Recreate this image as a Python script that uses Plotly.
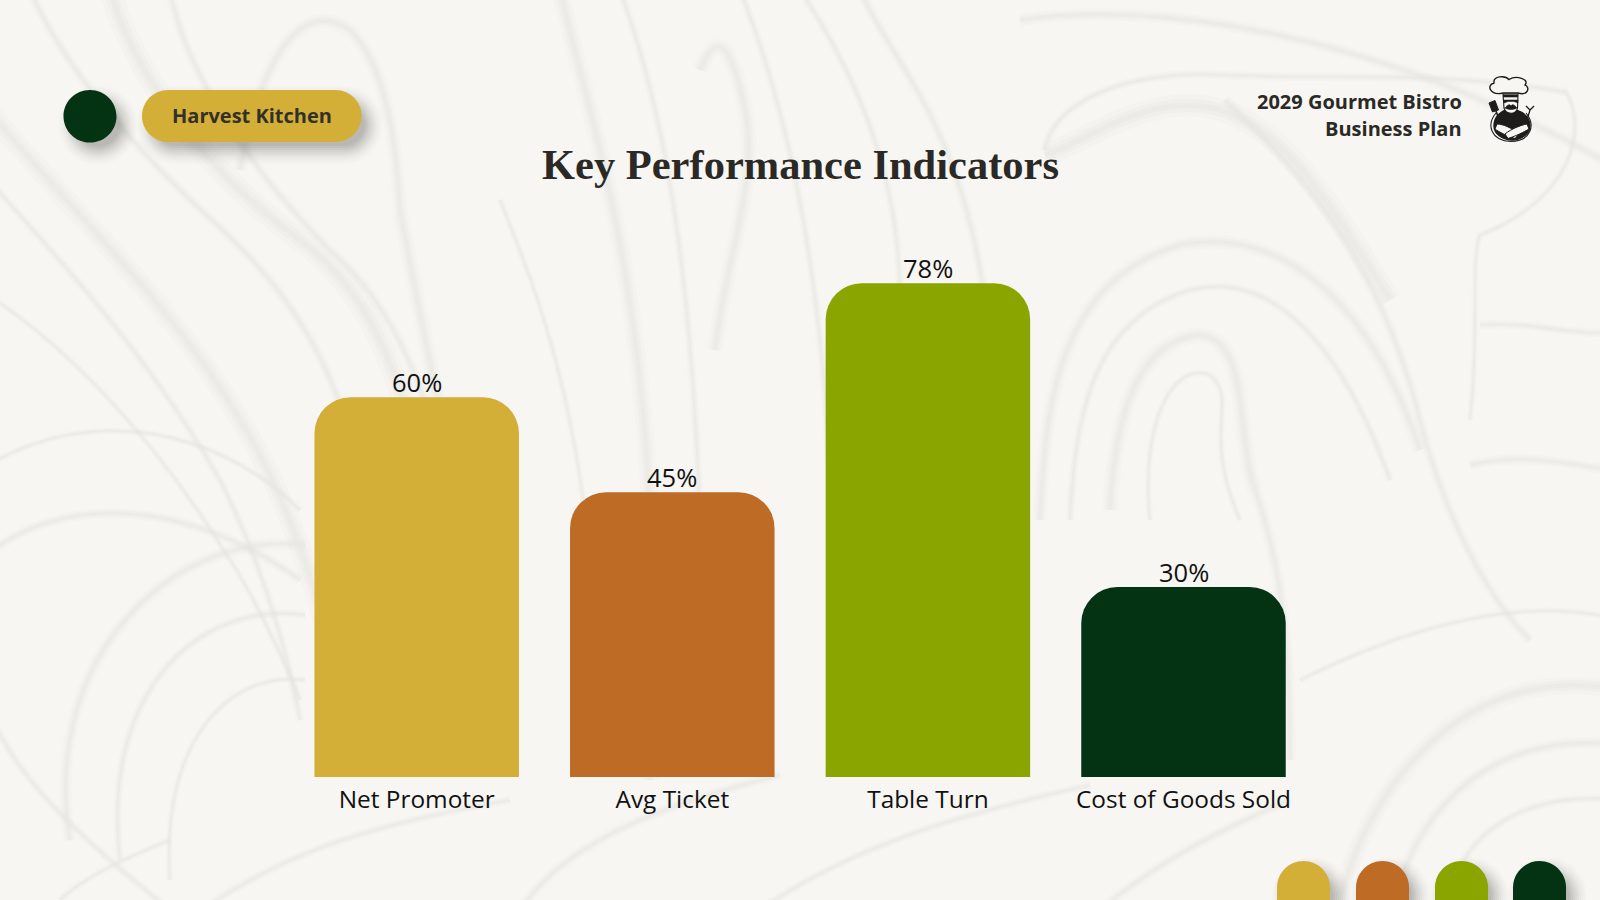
import plotly.graph_objects as go

categories = ["Net Promoter", "Avg Ticket", "Table Turn", "Cost of Goods Sold"]
values = [60, 45, 78, 30]
value_labels = ["60%", "45%", "78%", "30%"]
bar_colors = ["#D3AF37", "#BD6B25", "#8AA400", "#033313"]

W, H = 1600, 900
BG = "#F7F6F2"
SWIRL = "#E6E6E1"
DARK = "#033313"
GOLD = "#D3AF37"


def px(x):
    return x / W


def py(y):
    return 1 - y / H


def path(cmds):
    out = []
    for c in cmds:
        if isinstance(c, str):
            out.append(c)
        else:
            out.append(f"{px(c[0]):.5f},{py(c[1]):.5f}")
    return " ".join(out)


def pill_path(x0, y0, x1, y1, r):
    k = 0.5523 * r
    return path([
        "M", (x0 + r, y0), "L", (x1 - r, y0),
        "C", (x1 - r + k, y0), (x1, y0 + r - k), (x1, y0 + r),
        "L", (x1, y1 - r),
        "C", (x1, y1 - r + k), (x1 - r + k, y1), (x1 - r, y1),
        "L", (x0 + r, y1),
        "C", (x0 + r - k, y1), (x0, y1 - r + k), (x0, y1 - r),
        "L", (x0, y0 + r),
        "C", (x0, y0 + r - k), (x0 + r - k, y0), (x0 + r, y0), "Z",
    ])


shapes = []


def swirl(points, width=5):
    cmds = ["M", points[0]]
    for i in range(1, len(points), 3):
        cmds += ["C", points[i], points[i + 1], points[i + 2]]
    # soft edge: a wide very faint stroke with a narrower one on top
    for w, op in ((width * 1.7, 0.16), (width, 0.26), (width * 0.45, 0.3)):
        shapes.append(dict(type="path", path=path(cmds), xref="paper", yref="paper",
                           line=dict(color=SWIRL, width=w), opacity=op, layer="below"))


def pill(x0, y0, x1, y1, r, color, layer="below"):
    shapes.append(dict(type="path", path=pill_path(x0, y0, x1, y1, r), xref="paper", yref="paper",
                       fillcolor=color, line=dict(width=0), layer=layer))


def shadowed_pill(x0, y0, x1, y1, r, color, dx=8, dy=9):
    for g, a in [(13, .012), (11, .016), (9, .02), (7, .025), (5, .03), (3, .035), (1, .04), (-1, .05), (-3, .05), (-5, .05)]:
        pill(x0 + dx - g, y0 + dy - g, x1 + dx + g, y1 + dy + g, max(r + g, 1), f"rgba(40,40,35,{a})")
    pill(x0, y0, x1, y1, r, color)


# --- marble background ---
for pts, w in [
    # top-left streams
    (((-20, 100), (60, 200), (170, 300), (240, 420), (290, 500), (320, 600), (345, 700)), 12),
    (((-20, 170), (40, 240), (140, 340), (220, 480), (260, 560), (285, 640), (300, 720)), 5),
    (((-20, 290), (60, 340), (150, 430), (230, 560), (250, 590), (280, 650), (300, 700)), 4),
    (((30, -10), (60, 60), (120, 130), (180, 190), (230, 240), (320, 300), (360, 470)), 6),
    (((110, -10), (130, 60), (190, 160), (300, 240), (380, 300), (420, 400), (440, 620)), 13),
    (((170, -10), (180, 50), (230, 150), (330, 250), (400, 310), (450, 420), (470, 640)), 6),
    (((240, 170), (255, 90), (290, -10), (350, 30), (380, 60), (395, 120), (400, 210)), 8),
    (((400, 210), (420, 320), (450, 460), (480, 600), (490, 650), (500, 700), (510, 760)), 9),
    # centre streams
    (((560, -10), (590, 120), (640, 260), (650, 520), (655, 620), (650, 700), (650, 780)), 10),
    (((500, 200), (540, 300), (590, 420), (600, 700)), 4),
    (((620, -10), (660, 100), (690, 240), (700, 520)), 5),
    (((700, 70), (720, 20), (735, 60), (745, 110), (760, 180), (725, 260), (715, 350)), 9),
    (((740, -10), (780, 90), (820, 240), (830, 480)), 5),
    (((800, -10), (860, 80), (900, 180), (900, 300)), 5),
    (((860, -10), (890, 60), (960, 120), (985, 300)), 6),
    # big swirl on the right
    (((1040, 520), (1045, 400), (1060, 280), (1180, 245), (1280, 225), (1370, 300), (1420, 450)), 8),
    (((1070, 520), (1075, 420), (1090, 320), (1190, 290), (1270, 270), (1340, 340), (1390, 480)), 5),
    (((1110, 510), (1115, 410), (1140, 340), (1200, 335), (1250, 340), (1235, 430), (1255, 490)), 9),
    (((1150, 520), (1140, 430), (1170, 360), (1210, 375), (1240, 400), (1200, 430), (1240, 520)), 4),
    (((1255, 490), (1280, 560), (1290, 640), (1290, 760)), 7),
    (((1045, 150), (1050, 110), (1110, 70), (1220, 75), (1330, 80), (1440, 70), (1565, 92)), 5),
    (((1045, 155), (1090, 140), (1150, 90), (1220, 110), (1290, 130), (1340, 220), (1390, 300)), 13),
    (((1225, 100), (1300, 170), (1380, 260), (1420, 420), (1440, 500), (1480, 590), (1530, 640)), 6),
    (((1565, 90), (1590, 130), (1570, 200), (1480, 235), (1470, 260), (1480, 330), (1470, 420)), 4),
    (((1480, 325), (1530, 320), (1590, 340), (1620, 330)), 5),
    (((1470, 465), (1530, 450), (1590, 470), (1620, 470)), 6),
    (((1020, 20), (1150, 0), (1380, 30), (1620, 170)), 7),
    # lower right rings
    (((1340, 900), (1370, 780), (1470, 660), (1620, 690)), 10),
    (((1395, 900), (1420, 800), (1500, 730), (1620, 745)), 7),
    (((1450, 900), (1460, 830), (1530, 790), (1620, 800)), 5),
    (((1300, 680), (1380, 640), (1510, 590), (1620, 620)), 4),
    # lower left rings
    (((-20, 470), (90, 400), (220, 430), (300, 510)), 4),
    (((-20, 560), (60, 490), (190, 500), (300, 580)), 6),
    (((70, 840), (40, 660), (170, 530), (305, 545)), 7),
    (((120, 860), (100, 690), (200, 600), (305, 615)), 5),
    (((170, 880), (160, 740), (230, 670), (305, 680)), 4),
    (((-20, 680), (-5, 760), (70, 830), (170, 910)), 5),
    (((60, 900), (80, 880), (120, 860), (170, 840)), 4),
    # bottom centre
    (((520, 910), (560, 850), (640, 810), (780, 775)), 6),
    (((200, 910), (280, 860), (340, 830), (510, 800)), 5),
    (((760, 910), (860, 840), (980, 810), (1090, 785)), 5),
    (((1100, 910), (1160, 860), (1220, 830), (1290, 800)), 6),
]:
    swirl(pts, w)

# --- header decorations ---
shadowed_pill(63.5, 90, 116.5, 142.5, 26.3, DARK)
shadowed_pill(142, 90, 361.5, 142, 26, GOLD)

# --- bottom swatches (run off the page) ---
for x0, c in zip([1277, 1356, 1435, 1513], bar_colors):
    shadowed_pill(x0, 861, x0 + 53, 930, 26.5, c)

# --- chef icon ---
INK = "#1E1C1A"


def ink(cmds, fill="rgba(0,0,0,0)", width=1.4):
    shapes.append(dict(type="path", path=path(cmds), xref="paper", yref="paper",
                       fillcolor=fill, line=dict(color=INK, width=width), layer="above"))


# outer ring around the lower body
ink(["M", (1496, 113), "C", (1486, 125), (1491, 141), (1511, 141.5),
     "C", (1531, 141), (1536, 125), (1526, 113)], width=1.1)
# body disc
ink(["M", (1494, 126), "C", (1494, 116), (1501, 112), (1506, 110),
     "L", (1516, 110), "C", (1522, 112), (1530, 116), (1530, 126),
     "C", (1530, 134), (1521, 140), (1512, 140),
     "C", (1503, 140), (1494, 134), (1494, 126), "Z"], fill=INK)
# face
ink(["M", (1503, 94), "L", (1518, 94), "L", (1517.5, 108),
     "C", (1516, 115), (1506, 115), (1504, 108), "Z"], fill="#F7F6F2", width=1.1)
ink(["M", (1504, 100), "L", (1518, 100), "L", (1518, 103), "L", (1514, 101.5), "L", (1508, 101.5), "L", (1504, 103), "Z"],
    fill=INK, width=0.5)
ink(["M", (1505, 108), "C", (1508, 104), (1510, 104), (1511, 106),
     "C", (1512, 104), (1514, 104), (1517, 108),
     "C", (1514, 110), (1508, 110), (1505, 108), "Z"], fill=INK, width=0.6)
# hat
ink(["M", (1503, 93), "C", (1490, 96), (1486, 85), (1494, 83),
     "C", (1493, 76), (1505, 75), (1509, 79.5),
     "C", (1516, 75), (1530, 79), (1525, 85),
     "C", (1531, 88), (1527, 96), (1518, 93), "Z"], fill="#F7F6F2")
ink(["M", (1503, 96), "L", (1518, 96)], width=2.6)
# arms
ink(["M", (1497, 124), "C", (1503, 124), (1512, 128), (1519, 134), "L", (1515, 138.5),
     "C", (1507, 136), (1499, 132), (1495, 129), "Z"], fill="#F7F6F2", width=1)
ink(["M", (1527, 124), "C", (1521, 125), (1511, 129), (1505, 134), "L", (1508, 138.5),
     "C", (1516, 136), (1524, 132), (1529, 129), "Z"], fill="#F7F6F2", width=1)
# spatula and fork
ink(["M", (1489, 103), "L", (1495, 100.5), "L", (1498.5, 110), "L", (1492.5, 112), "Z"], fill=INK, width=1)
ink(["M", (1496, 111), "L", (1500, 122)], width=1.6)
ink(["M", (1527, 120), "L", (1530, 110), "M", (1530, 110), "L", (1526, 106), "M", (1530, 110), "L", (1534, 106)], width=1.3)

# --- bars ---
fig = go.Figure(go.Bar(
    x=categories,
    y=values,
    marker=dict(color=bar_colors, line=dict(width=0)),
    cliponaxis=False,
    hoverinfo="skip",
))

annotations = [
    dict(text=label, x=cat, y=val, xref="x", yref="y", xanchor="center", yanchor="bottom",
         yshift=-4, showarrow=False, font=dict(family="Open Sans", size=25.5, color="#111111"))
    for cat, val, label in zip(categories, values, value_labels)
]

BODY = "#2B2926"
annotations += [
    dict(text="<b>Key Performance Indicators</b>", x=800 / W, y=py(164), xref="paper", yref="paper",
         xanchor="center", yanchor="middle", showarrow=False,
         font=dict(family="Liberation Serif", size=42.5, color="#2B2926")),
    dict(text="<b>Harvest Kitchen</b>", x=252 / W, y=py(116), xref="paper", yref="paper",
         xanchor="center", yanchor="middle", showarrow=False,
         font=dict(family="Open Sans", size=20, color="#33302A")),
    dict(text="<b>2029 Gourmet Bistro</b>", x=1464 / W, y=py(101.5), xref="paper", yref="paper",
         xanchor="right", yanchor="middle", showarrow=False,
         font=dict(family="Open Sans", size=20, color=BODY)),
    dict(text="<b>Business Plan</b>", x=1464 / W, y=py(129), xref="paper", yref="paper",
         xanchor="right", yanchor="middle", showarrow=False,
         font=dict(family="Open Sans", size=20, color=BODY)),
]

fig.update_layout(
    width=W, height=H,
    margin=dict(l=0, r=0, t=0, b=0),
    paper_bgcolor=BG,
    plot_bgcolor="rgba(0,0,0,0)",
    bargap=0.2,
    barcornerradius=36,
    showlegend=False,
    shapes=shapes,
    annotations=annotations,
    xaxis=dict(domain=[288.9 / W, 1311.3 / W], tickfont=dict(family="Open Sans", size=24.4, color="#111111"),
               showgrid=False, showline=False, zeroline=False, ticks="", ticklabelstandoff=6),
    yaxis=dict(domain=[1 - 777 / H, 1 - 144 / H], range=[0, 100], visible=False),
)

fig.write_html("out.html", config={"displayModeBar": False},
               post_script="document.body.style.margin='0';document.body.style.overflow='hidden';")
